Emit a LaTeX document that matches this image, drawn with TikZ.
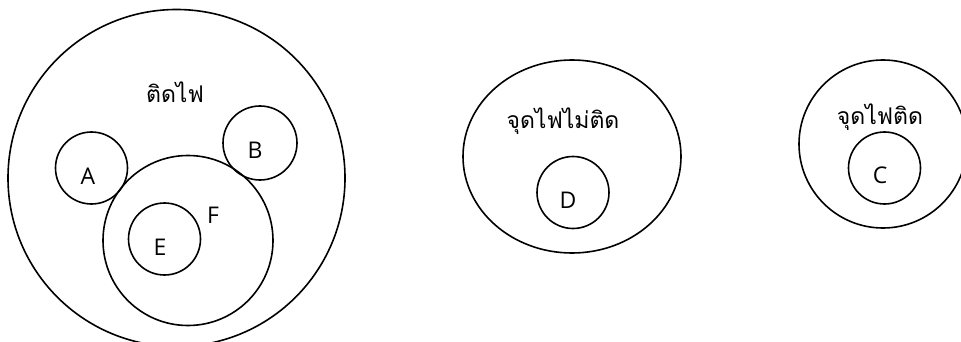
\documentclass[tikz,border=0pt]{standalone}
\usepackage{fontspec}
\setmainfont{Open Sans}
\newfontfamily\thaifont[Script=Thai]{Loma}
\usetikzlibrary{shapes.geometric}

\begin{document}
\begin{tikzpicture}[x=1pt,y=-1pt,
  ring/.style={draw,circle,inner sep=0pt,line width=1.6pt},
  oval/.style={draw,ellipse,inner sep=0pt,line width=1.6pt},
  lab/.style={font=\fontsize{23}{25}\selectfont},
  thai/.style={font=\thaifont\fontsize{23}{25}\selectfont}]
  \useasboundingbox (0,0) rectangle (961,342);
  % sets
  \foreach \n/\x/\y/\d in {fire/176.5/178/337,F/188/240.5/170,A/91.5/168/72,
      B/260/143/74,E/164.5/239/72,D/573/192.5/72,lit/883/144/168,C/884.5/168/72} {
    \node[ring,minimum size=\d pt] (\n) at (\x,\y) {};
  }
  \node[oval,minimum width=218pt,minimum height=193pt] (nolit) at (572,156.5) {};
  % labels
  \foreach \n/\x/\y/\t in {A/88/176/A,B/255/150/B,E/160/247/E,F/213/215/F,
      D/568/200/D,C/880/175/C} {
    \node[lab] (lab\n) at (\x,\y) {\t};
  }
  \node[thai] (labfire) at (175,92) {ติดไฟ};
  \node[thai] (labnolit) at (563,121) {จุดไฟไม่ติด};
  \node[thai] (lablit) at (880,117) {จุดไฟติด};
\end{tikzpicture}
\end{document}
